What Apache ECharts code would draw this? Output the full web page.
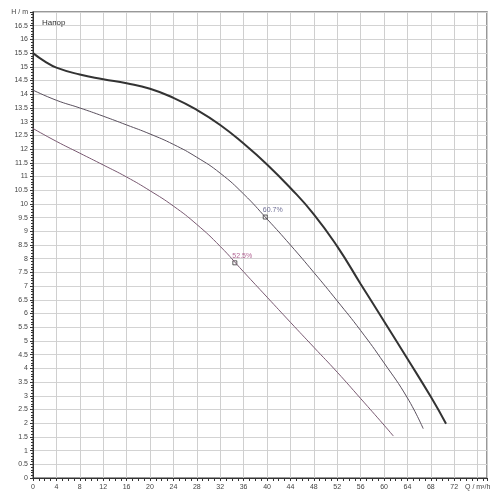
<!DOCTYPE html>
<html>
<head>
<meta charset="utf-8">
<script src="https://cdn.jsdelivr.net/npm/echarts@6/dist/echarts.min.js"></script>
<style>html,body{margin:0;padding:0;background:#fff}#c{width:500px;height:500px}</style>
</head>
<body>
<div id="c"></div>
<script>
var qMax = [0, 2, 4, 8, 12, 16, 20, 24, 28, 32, 36, 40, 44, 48, 52, 56, 60, 64, 68, 70.6];
var hMax = [15.5, 15.2, 14.97, 14.72, 14.55, 14.4, 14.2, 13.87, 13.43, 12.88, 12.2, 11.44, 10.58, 9.62, 8.45, 7.08, 5.72, 4.35, 2.96, 1.98];
var qMid = [0, 4, 8, 12, 16, 20, 24, 28, 32, 36, 40, 44, 48, 52, 56, 60, 64, 66.7];
var hMid = [14.15, 13.78, 13.5, 13.2, 12.88, 12.55, 12.17, 11.7, 11.12, 10.36, 9.45, 8.5, 7.5, 6.46, 5.38, 4.2, 2.92, 1.8];
var qMin = [0, 4, 8, 12, 16, 20, 24, 28, 32, 36, 40, 44, 48, 52, 56, 60, 61.6];
var hMin = [12.75, 12.28, 11.85, 11.42, 10.98, 10.48, 9.92, 9.25, 8.45, 7.52, 6.6, 5.68, 4.77, 3.86, 2.9, 1.93, 1.53];
var effQ = [39.7, 34.5];
var effH = [9.52, 7.85];
var effLabels = ['60.7%', '52.5%'];
var effColors = ['#4a4a7a', '#a0407a'];
var xAxisName = 'Q / m³/h';
var yAxisName = 'H / m';
var chartLabel = 'Напор';

function pairs(xs, ys) { return xs.map(function (x, i) { return [x, ys[i]]; }); }

var chart = echarts.init(document.getElementById('c'));
var lbl = { fontFamily: 'Liberation Sans, Arial, sans-serif', fontSize: 7, color: '#444' };
var lineBase = { type: 'line', smooth: 0.5, smoothConstraint: false, showSymbol: false };
chart.setOption({
  animation: false,
  title: { text: chartLabel, left: 37, top: 14, textStyle: { fontFamily: 'Liberation Sans, Arial, sans-serif', fontSize: 8, fontWeight: 'normal', color: '#333' } },
  grid: { left: 33, right: 13, top: 12, bottom: 22, show: true, borderColor: '#777', borderWidth: 1.5, backgroundColor: '#fff' },
  xAxis: {
    type: 'value', min: 0, max: 77.6, interval: 4,
    axisLine: { lineStyle: { color: '#333', width: 1 } },
    axisTick: { show: true, length: 3, lineStyle: { color: '#333' } },
    minorTick: { show: true, splitNumber: 4, length: 3, lineStyle: { color: '#333' } },
    splitLine: { show: true, lineStyle: { color: '#cfcfcf', width: 1 } },
    axisLabel: Object.assign({ margin: 6, showMaxLabel: false, formatter: function (v) { return v === 76 ? xAxisName : String(v); } }, lbl)
  },
  yAxis: {
    type: 'value', min: 0, max: 17, interval: 0.5,
    axisLine: { show: true, lineStyle: { color: '#333', width: 1 } },
    axisTick: { show: true, length: 3, lineStyle: { color: '#333' } },
    minorTick: { show: true, splitNumber: 5, length: 2, lineStyle: { color: '#333' } },
    splitLine: { show: true, lineStyle: { color: '#d3d3d3', width: 1 } },
    axisLabel: Object.assign({ margin: 5, formatter: function (v) { return v === 17 ? yAxisName : String(v); } }, lbl)
  },
  series: [
    Object.assign({ data: pairs(qMax, hMax), lineStyle: { color: '#333', width: 2 } }, lineBase),
    Object.assign({ data: pairs(qMid, hMid), lineStyle: { color: '#5a505e', width: 1 } }, lineBase),
    Object.assign({ data: pairs(qMin, hMin), lineStyle: { color: '#7a5a72', width: 1 } }, lineBase),
    {
      type: 'scatter', symbol: 'rect', symbolSize: 4,
      data: effQ.map(function (q, i) {
        return {
          value: [q, effH[i]],
          itemStyle: { color: '#fff', borderColor: '#333', borderWidth: 1 },
          label: { show: true, formatter: effLabels[i], position: [0, -8], fontFamily: 'Liberation Sans, Arial, sans-serif', fontSize: 7, color: effColors[i] }
        };
      })
    }
  ]
});
</script>
</body>
</html>
